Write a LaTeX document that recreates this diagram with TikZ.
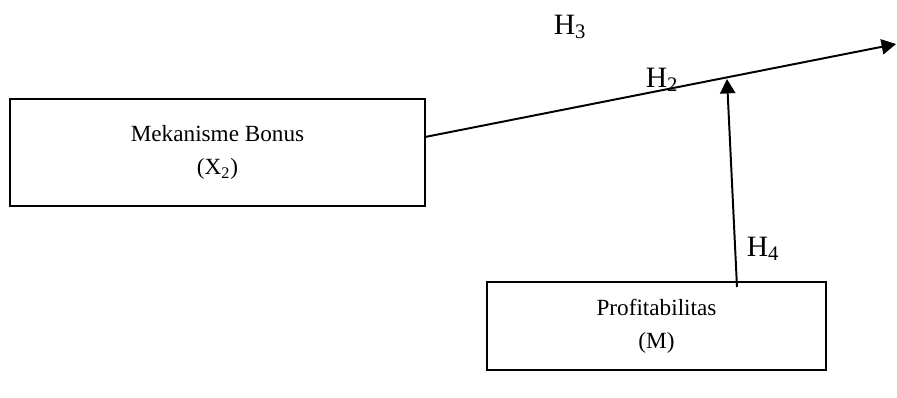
\documentclass[tikz,border=0pt]{standalone}
\usepackage{fontspec}
\setmainfont{Liberation Serif}
\usetikzlibrary{arrows.meta}
\tikzset{
	varbox/.style={draw,line width=0.9pt,align=center,font=\fontsize{16.5}{23.5}\selectfont},
	path/.style={line width=1.4pt,-{Triangle[length=0.36cm,width=0.38cm]}},
	hlabel/.style={font=\fontsize{21}{24}\selectfont}
}
\begin{document}
\begin{tikzpicture}[x=0.025cm,y=-0.025cm]
		\useasboundingbox (0,0) rectangle (897,397);
		\node[varbox,minimum width=10.375cm,minimum height=2.675cm] (bonus) at (217.5,152.5) {Mekanisme Bonus\\(X\textsubscript{2})};
		\node[varbox,minimum width=8.475cm,minimum height=2.2cm] (profit) at (656.5,326) {Profitabilitas\\(M)};
		\coordinate (start) at (425,137);
		\coordinate (end) at (896,44);
		\coordinate (hit) at (727,79);
		\coordinate (foot) at (737,287);
		\draw[path] (start)--(end);
		\draw[path] (foot)--(hit);
		\node[hlabel] (h3) at (570,27) {H\textsubscript{3}};
		\node[hlabel] (h2) at (662,80) {H\textsubscript{2}};
		\node[hlabel] (h4) at (763,249) {H\textsubscript{4}};
	\end{tikzpicture}
\end{document}
